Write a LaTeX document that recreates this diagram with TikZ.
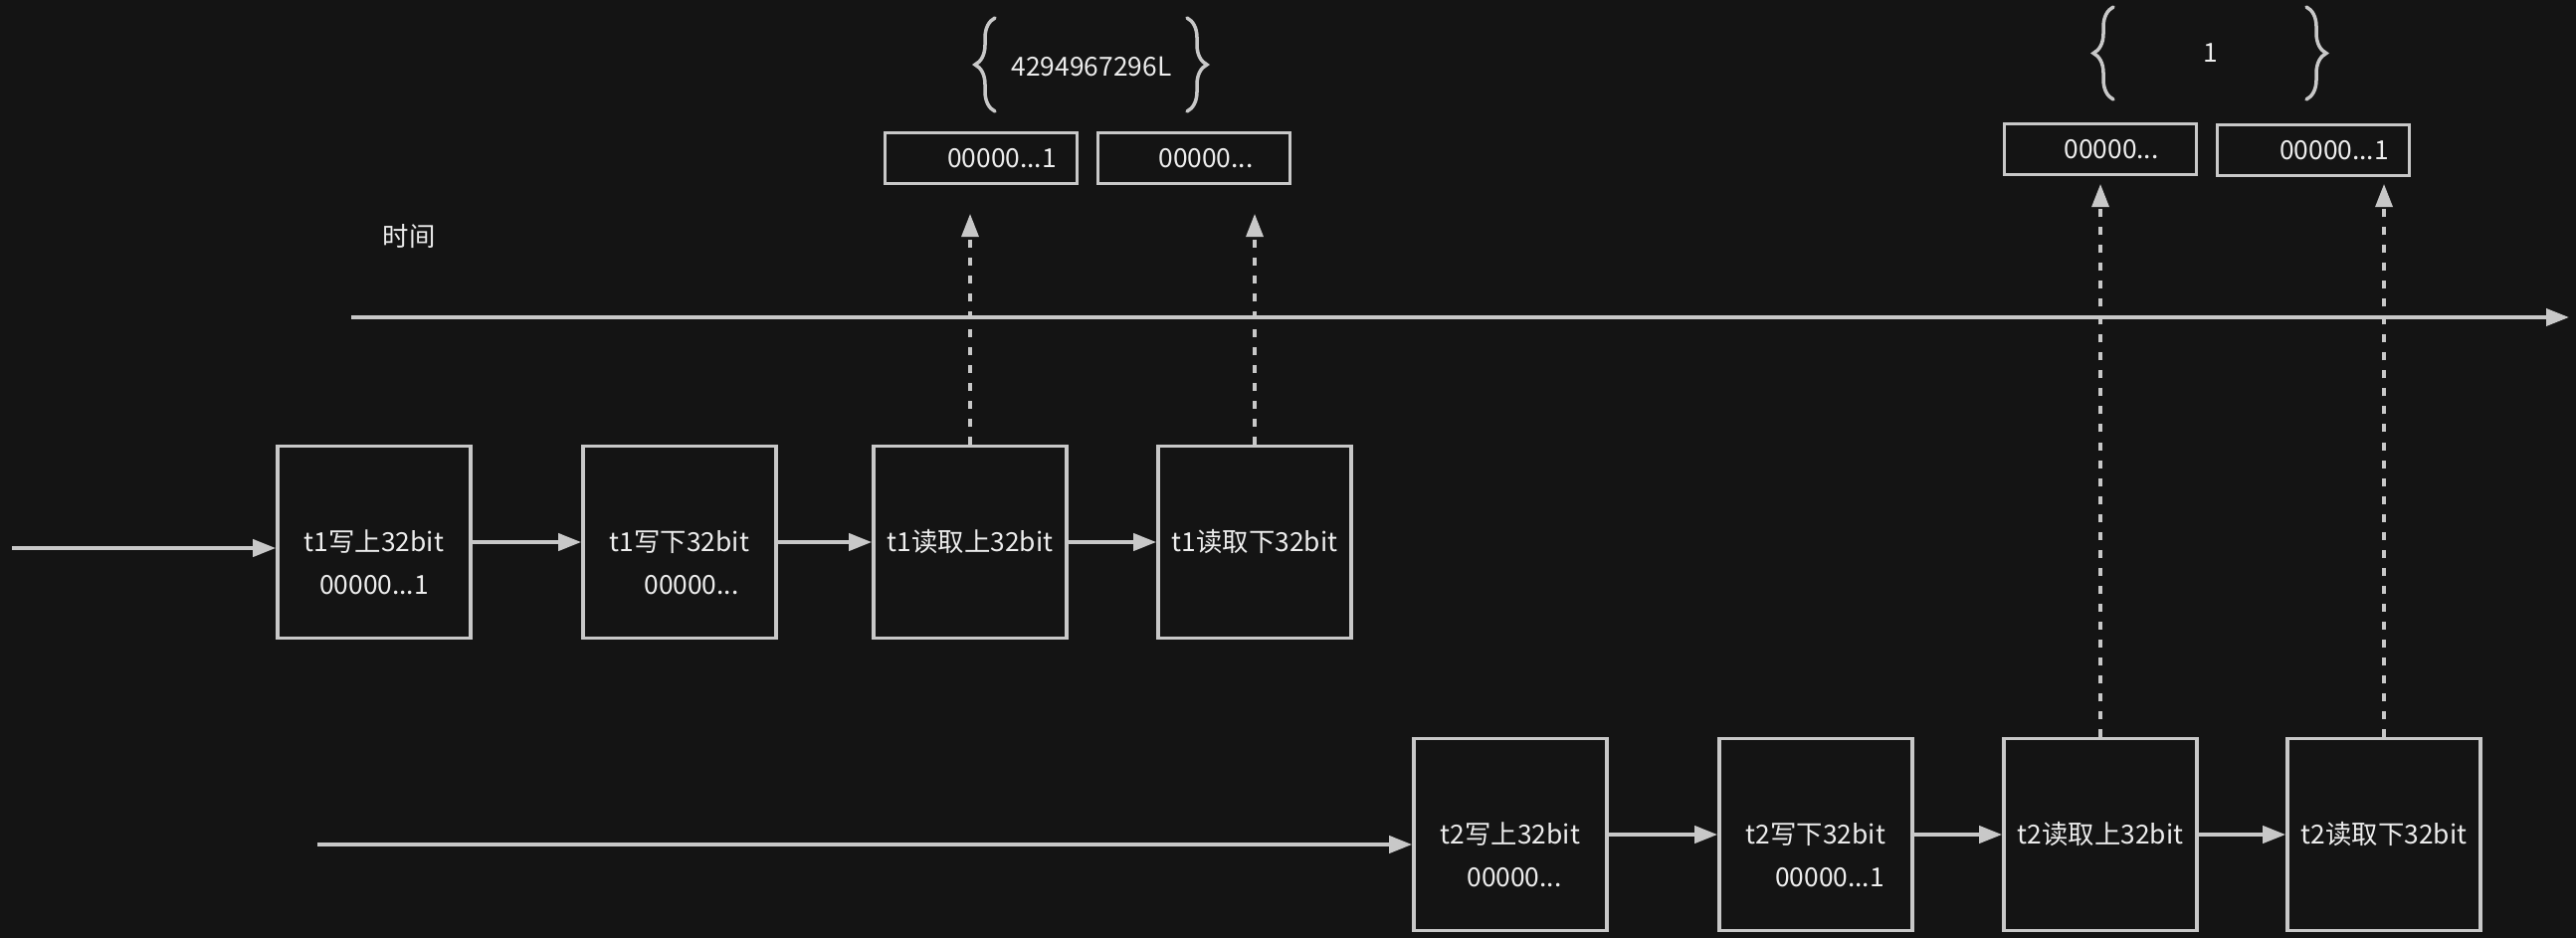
\documentclass[tikz,border=0pt]{standalone}
\usepackage{fontspec}
\setmainfont{Noto Sans CJK SC}
\usepackage{xcolor}
\usetikzlibrary{arrows.meta, positioning, decorations.pathreplacing}

\definecolor{bgdark}{HTML}{141414}
\definecolor{linegray}{HTML}{C8C8C8}
\definecolor{txtwhite}{HTML}{EDEDED}

\begin{document}
\begin{tikzpicture}[
    x=0.01cm,
    y=-0.01cm,
    font=\fontsize{7.5}{9}\selectfont,
    every node/.style={text=txtwhite},
    stepbox/.style={
        rectangle,
        draw=linegray,
        line width=1pt,
        inner sep=0pt,
        minimum width=1.94cm,
        minimum height=1.93cm
    },
    cell/.style={
        rectangle,
        draw=linegray,
        line width=1pt,
        inner sep=0pt,
        minimum width=1.93cm,
        minimum height=0.51cm
    },
    lowline/.style={
        yshift=-0.43cm
    },
    flow/.style={
        draw=linegray,
        line width=1.1pt,
        -{Triangle[length=0.23cm, width=0.17cm]}
    },
    probe/.style={
        flow,
        line width=0.9pt,
        dash pattern=on 0.08cm off 0.1cm
    },
    curly/.style={
        draw=linegray,
        line width=1pt,
        line cap=round,
        decorate,
        decoration={brace, amplitude=0.2cm}
    }
]
    % Background
    \fill [bgdark] (0,0) rectangle (2589,943);
    \useasboundingbox (0,0) rectangle (2589,943);

    % Time axis
    \coordinate (t0) at (353,319);
    \coordinate (t1) at (2582,319);
    \node (timelbl) at (411,238) {时间};
    \draw [flow] (t0) -- (t1);

    % Thread t1
    \coordinate (in1) at (12,551);
    \node [stepbox, label={[lowline]center:00000...1}] (w1hi) at (376,545) {t1写上32bit};
    \node [stepbox, label={[lowline, xshift=0.12cm]center:00000...}] (w1lo) at (683,545) {t1写下32bit};
    \node [stepbox] (r1hi) at (975,545) {t1读取上32bit};
    \node [stepbox] (r1lo) at (1261,545) {t1读取下32bit};

    % Thread t2
    \coordinate (in2) at (319,849);
    \node [stepbox, label={[lowline, xshift=0.04cm]center:00000...}] (w2hi) at (1518,839) {t2写上32bit};
    \node [stepbox, label={[lowline, xshift=0.14cm]center:00000...1}] (w2lo) at (1825,839) {t2写下32bit};
    \node [stepbox] (r2hi) at (2111,839) {t2读取上32bit};
    \node [stepbox] (r2lo) at (2396,839) {t2读取下32bit};

    % Values read by t1
    \node [cell] (v1hi) at (986,159) {\hspace*{0.42cm}00000...1};
    \node [cell] (v1lo) at (1200,159) {\hspace*{0.24cm}00000...};
    \node (v1) at (1097,67) {4294967296L};
    \draw [curly] (1000,112) -- (1000,18);
    \draw [curly] (1193,18) -- (1193,112);

    % Values read by t2
    \node [cell] (v2hi) at (2111,150) {\hspace*{0.22cm}00000...};
    \node [cell] (v2lo) at (2325,151) {\hspace*{0.42cm}00000...1};
    \node (v2) at (2222,53) {1};
    \draw [curly] (2124,100) -- (2124,7);
    \draw [curly] (2318,7) -- (2318,100);

    % Tips of the read arrows
    \coordinate (tip1) at (0,215);
    \coordinate (tip2) at (0,185);

    % Connections
    \draw [flow] (in1) -- (in1 -| w1hi.west);
    \draw [flow] (w1hi) -- (w1lo);
    \draw [flow] (w1lo) -- (r1hi);
    \draw [flow] (r1hi) -- (r1lo);

    \draw [flow] (in2) -- (in2 -| w2hi.west);
    \draw [flow] (w2hi) -- (w2lo);
    \draw [flow] (w2lo) -- (r2hi);
    \draw [flow] (r2hi) -- (r2lo);

    \draw [probe] (r1hi.north) -- (r1hi.north |- tip1);
    \draw [probe] (r1lo.north) -- (r1lo.north |- tip1);
    \draw [probe] (r2hi.north) -- (r2hi.north |- tip2);
    \draw [probe] (r2lo.north) -- (r2lo.north |- tip2);

\end{tikzpicture}
\end{document}
